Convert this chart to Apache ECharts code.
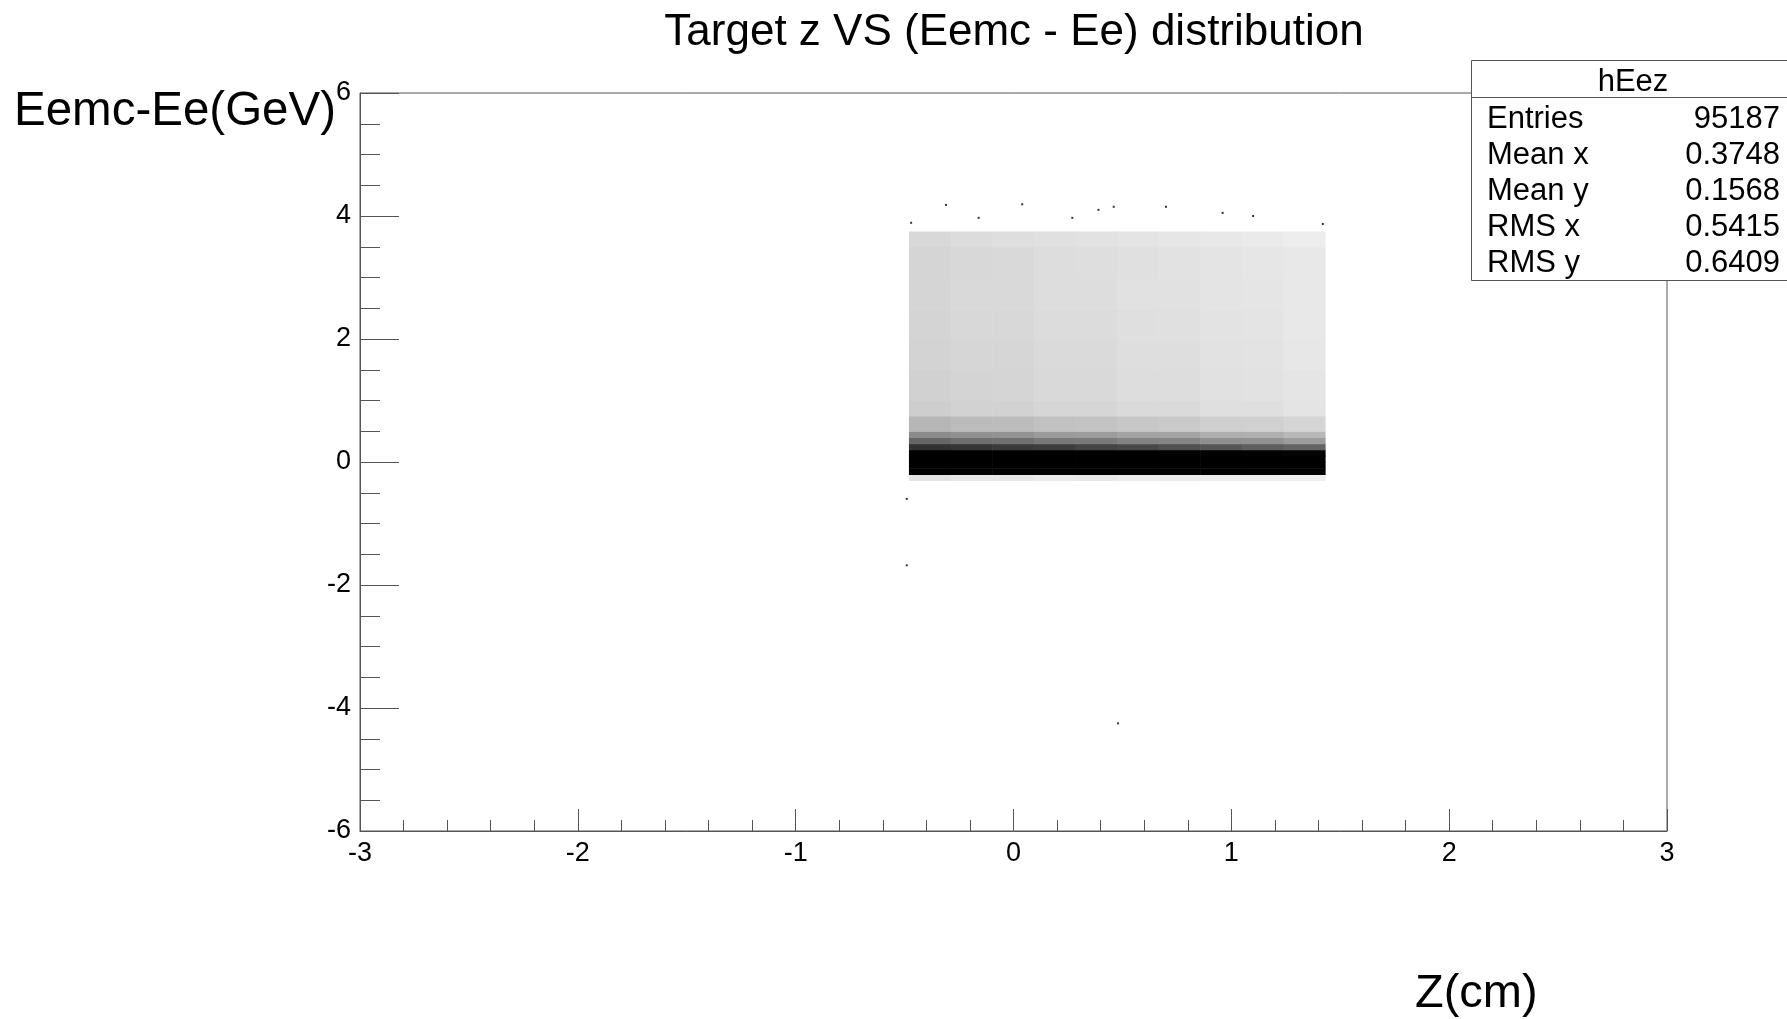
<!DOCTYPE html>
<html><head><meta charset="utf-8">
<script src="https://cdn.jsdelivr.net/npm/echarts@6/dist/echarts.min.js"></script>
<style>html,body{margin:0;padding:0;background:#fff}#c{width:1787px;height:1019px}</style>
</head><body><div id="c"></div><script>
// ---- data ----
const chartTitle = 'Target z VS (Eemc - Ee) distribution';
const xAxisTitle = 'Z(cm)';
const yAxisTitle = 'Eemc-Ee(GeV)';
const xTickValues = [-3, -2, -1, 0, 1, 2, 3];
const yTickValues = [-6, -4, -2, 0, 2, 4, 6];
// bin edges of the 2D histogram (z in cm, Eemc-Ee in GeV)
const zEdges = [-0.48, -0.289, -0.098, 0.093, 0.284, 0.475, 0.666, 0.857, 1.048, 1.239, 1.43];
const eEdges = [-0.3, -0.2, -0.1, 0, 0.1, 0.2, 0.3, 0.4, 0.5, 0.75, 1.0, 1.5, 2.0, 2.5, 3.0, 3.5, 3.75];
// estimated entries per cell: one row per eEdges interval, one column per zEdges interval
const cellCounts = [
  [20, 17, 18, 15, 16, 14, 15, 12, 12, 11],
  [2790, 2710, 2540, 2420, 2250, 2150, 1990, 1860, 1700, 1590],
  [3560, 3430, 3230, 3060, 2870, 2720, 2530, 2360, 2170, 2020],
  [2860, 2760, 2600, 2470, 2300, 2190, 2040, 1900, 1750, 1630],
  [1270, 1230, 1150, 1100, 1020, 980, 900, 850, 770, 730],
  [280, 270, 252, 243, 224, 216, 198, 188, 170, 160],
  [156, 144, 141, 129, 126, 114, 111, 99, 96, 84],
  [104, 96, 95, 85, 84, 76, 75, 65, 64, 56],
  [143, 132, 130, 118, 115, 105, 102, 90, 88, 77],
  [92, 83, 83, 74, 74, 66, 66, 57, 57, 48],
  [170, 156, 154, 139, 137, 123, 121, 106, 104, 91],
  [163, 150, 148, 133, 132, 118, 117, 102, 101, 86],
  [158, 143, 142, 128, 127, 113, 112, 98, 97, 82],
  [152, 136, 137, 122, 121, 108, 108, 94, 93, 79],
  [155, 140, 136, 123, 117, 111, 103, 96, 88, 81],
  [70, 63, 60, 55, 51, 48, 44, 41, 37, 31]
];
// isolated entries outside the main block
const strayZ = [-0.49, -0.49, 0.48, -0.31, 0.04, 0.39, 0.46, 0.70, 0.96, 1.10, 0.27, -0.16, -0.47, 1.42];
const strayE = [-0.60, -1.68, -4.25, 4.18, 4.19, 4.10, 4.15, 4.15, 4.05, 4.00, 3.97, 3.97, 3.89, 3.87];
const statsName = 'hEez';
const statsLabels = ['Entries', 'Mean x', 'Mean y', 'RMS x', 'RMS y'];
const statsValues = ['95187', '0.3748', '0.1568', '0.5415', '0.6409'];

// ---- build library data ----
const cells = [];
cellCounts.forEach((row, j) => row.forEach((n, i) => {
  cells.push([zEdges[i], zEdges[i + 1], eEdges[j], eEdges[j + 1], n]);
}));
const strays = strayZ.map((z, k) => [z, strayE[k]]);

const FONT = 'Liberation Sans, Arial, Helvetica, sans-serif';
const AXIS_COLOR = '#555';
const SHADE_SCALE = 1.5 / 13417; // darkness per entry per unit^2

const chart = echarts.init(document.getElementById('c'), null, {renderer: 'canvas'});
chart.setOption({
  animation: false,
  backgroundColor: '#fff',
  grid: {left: 360, top: 93, width: 1307, height: 738, show: true,
    borderColor: AXIS_COLOR, borderWidth: 1, backgroundColor: 'transparent', containLabel: false},
  xAxis: {
    type: 'value', min: xTickValues[0], max: xTickValues[xTickValues.length - 1], interval: 1,
    axisLine: {show: true, onZero: false, lineStyle: {color: AXIS_COLOR, width: 1}},
    axisTick: {show: true, inside: true, length: 22, lineStyle: {color: AXIS_COLOR}},
    minorTick: {show: true, splitNumber: 5, length: 11, lineStyle: {color: AXIS_COLOR}},
    splitLine: {show: false}, minorSplitLine: {show: false},
    axisLabel: {color: '#000', fontSize: 27, fontFamily: FONT, margin: 9, showMinLabel: true, showMaxLabel: true}
  },
  yAxis: {
    type: 'value', min: yTickValues[0], max: yTickValues[yTickValues.length - 1], interval: 2,
    axisLine: {show: true, onZero: false, lineStyle: {color: AXIS_COLOR, width: 1}},
    axisTick: {show: true, inside: true, length: 39, lineStyle: {color: AXIS_COLOR}},
    minorTick: {show: true, splitNumber: 4, length: 20, lineStyle: {color: AXIS_COLOR}},
    splitLine: {show: false}, minorSplitLine: {show: false},
    axisLabel: {color: '#000', fontSize: 27, fontFamily: FONT, margin: 9, showMinLabel: true, showMaxLabel: true}
  },
  series: [
    {
      type: 'custom',
      data: cells,
      encode: {x: [0, 1], y: [2, 3]},
      clip: true,
      renderItem: function (params, api) {
        const z0 = api.value(0), z1 = api.value(1), e0 = api.value(2), e1 = api.value(3), n = api.value(4);
        const pA = api.coord([z0, e1]);
        const pB = api.coord([z1, e0]);
        const density = n / ((z1 - z0) * (e1 - e0));
        const g = Math.round(255 * Math.exp(-density * SHADE_SCALE));
        return {
          type: 'rect',
          shape: {x: pA[0], y: pA[1], width: pB[0] - pA[0] + 0.6, height: pB[1] - pA[1] + 0.6},
          style: {fill: 'rgb(' + g + ',' + g + ',' + g + ')'}
        };
      },
      z: 1
    },
    {
      type: 'scatter',
      data: strays,
      symbol: 'rect',
      symbolSize: 2,
      itemStyle: {color: '#000'},
      z: 2
    }
  ],
  graphic: [
    {type: 'text', x: 1014, y: 33, z: 10, style: {text: chartTitle, font: '44px ' + FONT, fill: '#000', textAlign: 'center', textVerticalAlign: 'middle'}},
    {type: 'text', x: 14, y: 112, z: 10, style: {text: yAxisTitle, font: '47.5px ' + FONT, fill: '#000', textAlign: 'left', textVerticalAlign: 'middle'}},
    {type: 'text', x: 1415, y: 994, z: 10, style: {text: xAxisTitle, font: '47px ' + FONT, fill: '#000', textAlign: 'left', textVerticalAlign: 'middle'}},
    {type: 'rect', z: 20, shape: {x: 1471.5, y: 60.5, width: 330, height: 220}, style: {fill: '#fff', stroke: AXIS_COLOR, lineWidth: 1}},
    {type: 'line', z: 21, shape: {x1: 1471.5, y1: 97.5, x2: 1800, y2: 97.5}, style: {stroke: AXIS_COLOR, lineWidth: 1}},
    {type: 'text', z: 22, x: 1633, y: 82, style: {text: statsName, font: '31px ' + FONT, fill: '#000', textAlign: 'center', textVerticalAlign: 'middle'}}
  ].concat(statsLabels.map((lab, k) => ({
    type: 'text', z: 22, x: 1487, y: 119 + k * 36.2, style: {text: lab, font: '31px ' + FONT, fill: '#000', textAlign: 'left', textVerticalAlign: 'middle'}
  }))).concat(statsValues.map((val, k) => ({
    type: 'text', z: 22, x: 1780, y: 119 + k * 36.2, style: {text: val, font: '31px ' + FONT, fill: '#000', textAlign: 'right', textVerticalAlign: 'middle'}
  })))
});
</script></body></html>
